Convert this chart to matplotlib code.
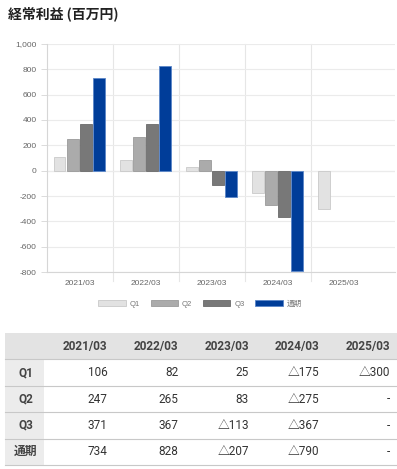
import matplotlib
matplotlib.use("Agg")
import matplotlib.pyplot as plt
import numpy as np
from matplotlib.patches import Rectangle, Patch

plt.rcParams['font.family'] = ['Liberation Sans', 'Noto Sans CJK JP', 'DejaVu Sans']

title = "経常利益 (百万円)"
categories = ["2021/03", "2022/03", "2023/03", "2024/03", "2025/03"]
series_names = ["Q1", "Q2", "Q3", "通期"]
q1 = [106, 82, 25, -175, -300]
q2 = [247, 265, 83, -275, np.nan]
q3 = [371, 367, -113, -367, np.nan]
full = [734, 828, -207, -790, np.nan]
yticks = [-800, -600, -400, -200, 0, 200, 400, 600, 800, 1000]

colors = ["#e2e2e2", "#ababab", "#787878", "#003d99"]
edges = ["#c9c9c9", "#9a9a9a", "#6a6a6a", "#5a86c8"]

W, H = 397, 469
fig = plt.figure(figsize=(W / 100, H / 100), dpi=100)

def fx(px):
    return px / W

def fy(py):
    return 1 - py / H

# title
fig.text(fx(8), fy(14), title, fontsize=10, fontweight='bold', color='#222222',
         va='center', ha='left', family=['Noto Sans CJK JP', 'DejaVu Sans'])

# chart
ax = fig.add_axes([fx(47), fy(272), fx(395 - 47), (272 - 44) / H])
x = np.arange(len(categories))
offsets = [-0.31, -0.11, 0.09, 0.29]
for vals, off, c, e, name in zip([q1, q2, q3, full], offsets, colors, edges, series_names):
    ax.bar(x + off, vals, width=0.18, color=c, edgecolor=e, linewidth=0.6, label=name, zorder=3)

ax.set_xlim(-0.5, 4.77)
ax.set_ylim(-800, 1000)
ax.set_yticks(yticks)
ax.set_yticklabels([f"{v:,}" for v in yticks])
ax.set_xticks(x)
ax.set_xticklabels(categories)
ax.tick_params(axis='both', labelsize=6, colors='#666666', length=4, width=0.6)
ax.tick_params(axis='x', length=0, pad=6)
for t in ax.get_xticklabels() + ax.get_yticklabels():
    t.set_color('#666666')
ax.grid(axis='y', color='#ebebeb', linewidth=0.8, zorder=0)
for b in [0.5, 1.5, 2.5, 3.5]:
    ax.axvline(b, color='#e6e6e6', linewidth=0.8, zorder=0, ymin=-0.04, clip_on=False)
ax.axhline(0, color='#d0d0d0', linewidth=0.8, zorder=1)
for s in ['top', 'right']:
    ax.spines[s].set_visible(False)
ax.spines['left'].set_color('#d6d6d6')
ax.spines['bottom'].set_color('#d6d6d6')
ax.spines['left'].set_linewidth(0.8)
ax.spines['bottom'].set_linewidth(0.8)
ax.tick_params(axis='y', color='#d6d6d6')

handles = [Patch(facecolor=c, edgecolor=e, linewidth=0.6) for c, e in zip(colors, edges)]
fig.legend(handles, series_names, loc='center', bbox_to_anchor=(fx(200), fy(304)),
           ncol=4, frameon=False, fontsize=5.5, handlelength=3.6, handleheight=0.9,
           columnspacing=1.4, handletextpad=0.5, labelcolor='#777777')

# table
tleft, tright = 5, 397
col0 = 44
colw = (tright - col0) / len(categories)
row_top = 333
rowh = 26.4
tfam = ['Roboto', 'Noto Sans CJK JP', 'DejaVu Sans']
txtc = '#333333'

def rect(x0, y0, w, h, color):
    fig.patches.append(Rectangle((fx(x0), fy(y0 + h)), w / W, h / H, transform=fig.transFigure,
                                 facecolor=color, edgecolor='none', zorder=0))

def hline(y):
    fig.add_artist(plt.Line2D([fx(tleft), fx(tright)], [fy(y), fy(y)], transform=fig.transFigure,
                              color='#c8c8c8', linewidth=0.8))

rect(tleft, row_top, tright - tleft, rowh, '#e3e3e3')
rect(tleft, row_top + rowh, col0 - tleft, rowh * 4, '#ececec')

for j, cat in enumerate(categories):
    fig.text(fx(col0 + colw * (j + 1) - 7), fy(row_top + rowh / 2), cat, ha='right', va='center',
             fontsize=8.5, fontweight='bold', color='#444444', family=tfam)

rows = [q1, q2, q3, full]

def fmt(v):
    if np.isnan(v):
        return "-"
    v = int(v)
    return f"△{-v}" if v < 0 else f"{v}"

for i, (name, vals) in enumerate(zip(series_names, rows)):
    yc = row_top + rowh * (i + 1) + rowh / 2
    fig.text(fx((tleft + col0) / 2 + 1), fy(yc), name, ha='center', va='center',
             fontsize=8.5, fontweight='bold', color='#444444', family=tfam)
    for j, v in enumerate(vals):
        fig.text(fx(col0 + colw * (j + 1) - 7), fy(yc), fmt(v), ha='right', va='center',
                 fontsize=8.5, color=txtc, family=tfam)
    hline(row_top + rowh * (i + 1))
hline(row_top + rowh * 5)

fig.savefig("out.png", dpi=100)
